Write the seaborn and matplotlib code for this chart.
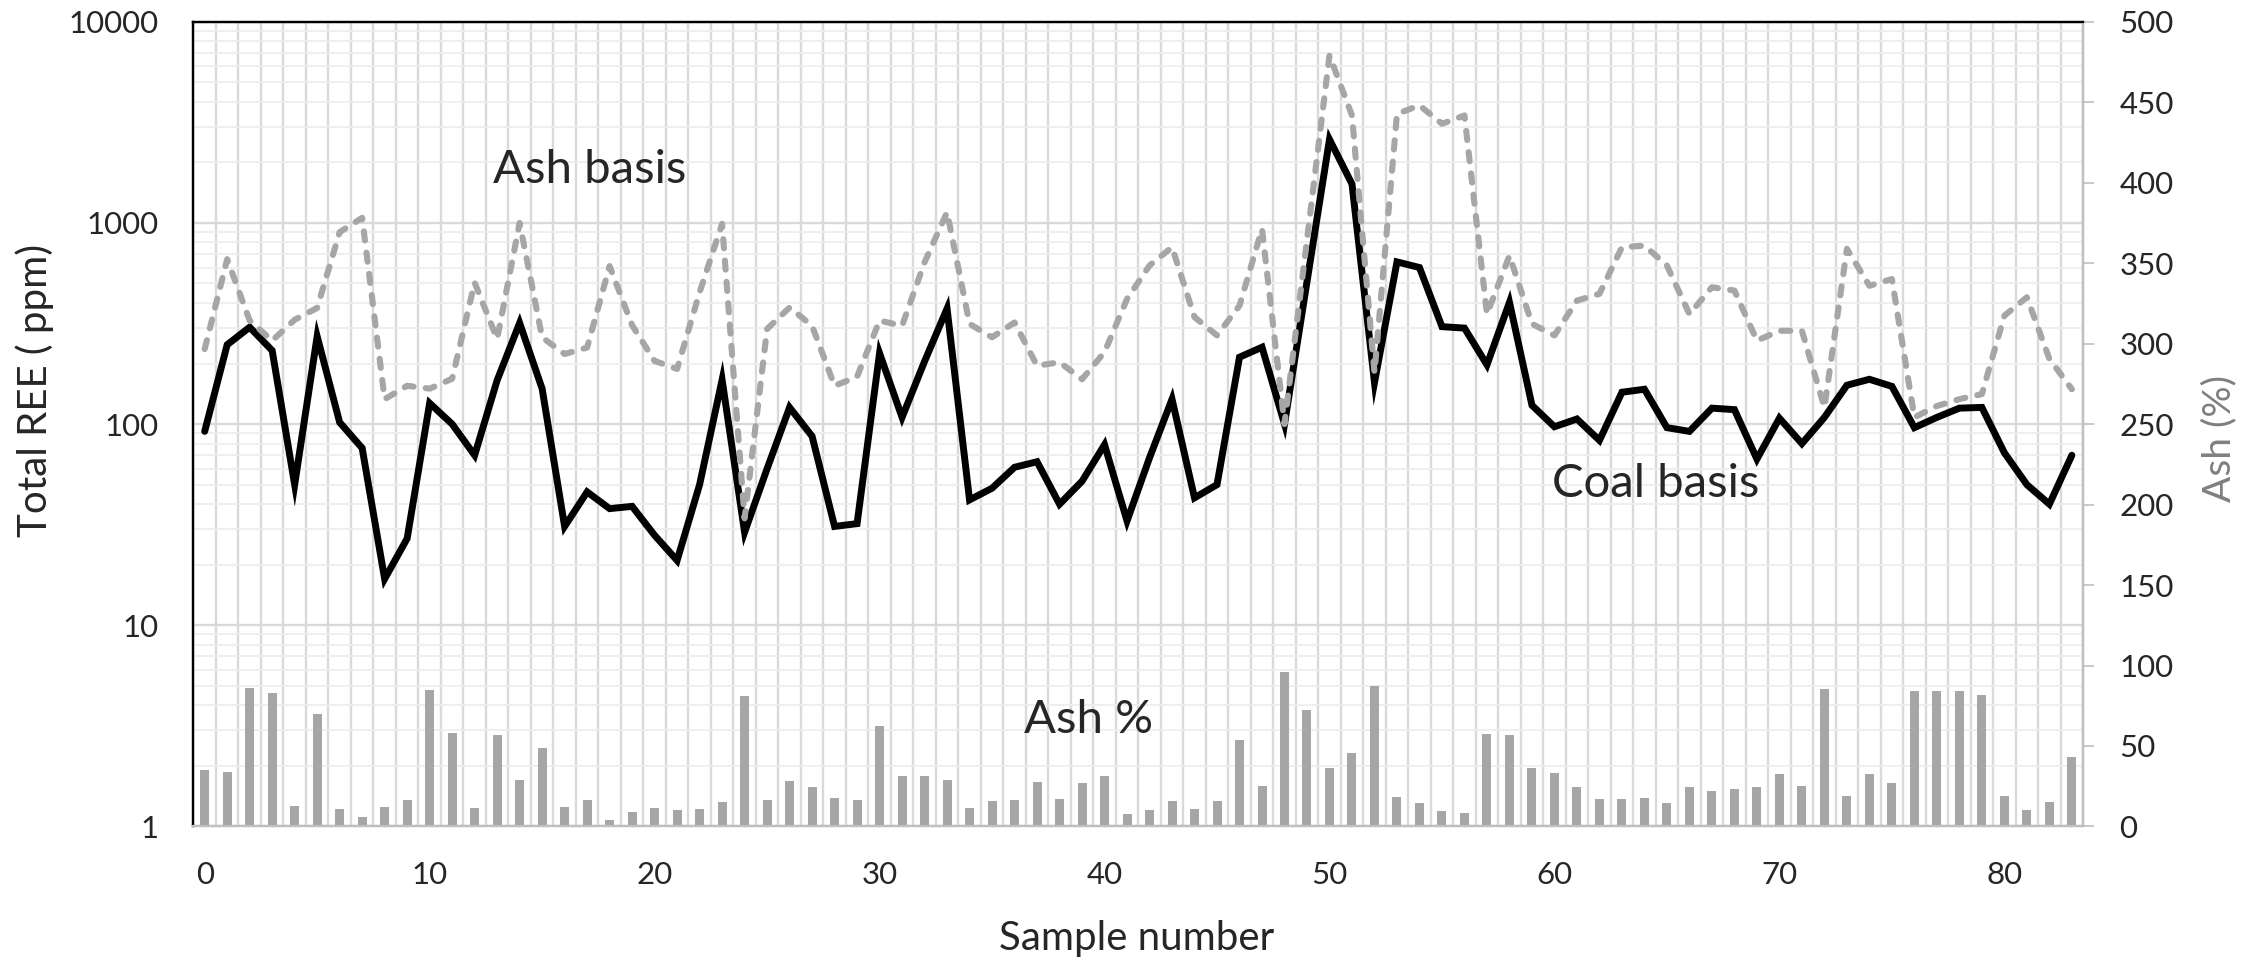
import numpy as np
import matplotlib
matplotlib.use("Agg")
import matplotlib.pyplot as plt
import matplotlib.ticker as mticker
import seaborn as sns

# --- data --------------------------------------------------------------
samples = np.arange(84)

coal_basis = [92, 248, 303, 232, 50, 273, 102, 76, 17, 27,
              127, 100, 70, 165, 318, 150, 31, 46, 38, 39,
              28, 21, 50, 166, 29, 60, 121, 87, 31, 32,
              225, 108, 205, 375, 42, 48, 61, 65, 40, 52,
              79, 33, 68, 133, 43, 50, 215, 241, 100, 510,
              2600, 1560, 161, 640, 600, 305, 300, 197, 403, 124,
              97, 106, 83, 144, 149, 96, 92, 120, 118, 67,
              107, 80, 108, 156, 167, 154, 96, 108, 120, 121,
              72, 50, 40, 70]

ash_basis = [236, 660, 327, 260, 330, 378, 900, 1060, 133, 155,
             150, 168, 505, 265, 1000, 270, 223, 240, 610, 310,
             206, 188, 452, 990, 34, 297, 380, 308, 155, 172,
             327, 308, 637, 1130, 315, 270, 320, 195, 203, 167,
             228, 419, 614, 757, 340, 276, 388, 933, 100, 825,
             6800, 3420, 180, 3480, 3840, 3110, 3420, 352, 687, 315,
             276, 411, 444, 757, 771, 614, 352, 479, 461, 260,
             291, 291, 121, 743, 487, 526, 108, 123, 133, 141,
             346, 427, 211, 149]

ash_pct = [35, 34, 86, 83, 13, 70, 10.6, 6, 12, 16.6,
           84.5, 58, 11.6, 57, 29, 48.7, 11.8, 16.6, 4.3, 9,
           11.2, 10, 10.8, 15.3, 81, 16.4, 28, 24.6, 17.8, 16.6,
           62.7, 31.5, 31.5, 29, 11.2, 16, 16.6, 27.5, 17, 27,
           31.3, 7.7, 10.4, 15.7, 11, 16, 54, 25.3, 96, 72.3,
           36.2, 45.5, 87, 18, 14.5, 9.3, 8.1, 57.3, 56.8, 36.4,
           33, 24.6, 17.2, 17.2, 17.8, 14.7, 24.4, 22.2, 23.4, 24.6,
           32.7, 25.3, 85.5, 19, 32.7, 27, 84, 84.3, 84, 81.4,
           19, 10, 15.3, 43]

x_ticks = [0, 10, 20, 30, 40, 50, 60, 70, 80]
left_ticks = [1, 10, 100, 1000, 10000]
right_ticks = [0, 50, 100, 150, 200, 250, 300, 350, 400, 450, 500]

# --- style ---------------------------------------------------------------
sns.set_style("white")
plt.rcParams['font.family'] = ['Lato', 'DejaVu Sans']

GRID = '#d9d9d9'
AXGRAY = '#bfbfbf'
BARGRAY = '#a6a6a6'

fig = plt.figure(figsize=(22.65, 9.61), dpi=100)
ax = fig.add_axes([0.0854, 0.140, 0.8343, 0.8374])
ax2 = ax.twinx()

# bars: ash % on the right axis
sns.barplot(x=samples, y=ash_pct, ax=ax2, color=BARGRAY, width=0.4,
            saturation=1, linewidth=0)

# lines: total REE on the left log axis
sns.lineplot(x=samples, y=coal_basis, ax=ax, color='black', linewidth=5.0,
             solid_joinstyle='miter')
sns.lineplot(x=samples, y=ash_basis, ax=ax, color=BARGRAY, linewidth=4.4,
             linestyle=(0, (1.5, 2.0)), dash_capstyle='round')

ax.set_yscale('log')
ax.set_ylim(1, 10000)
ax2.set_ylim(0, 500)
ax.set_xlim(-0.5, 83.5)

# x axis: labels every 10 samples, tick marks between categories
ax.xaxis.set_major_locator(mticker.FixedLocator(x_ticks))
ax.xaxis.set_major_formatter(mticker.FixedFormatter([str(v) for v in x_ticks]))
ax.xaxis.set_minor_locator(mticker.FixedLocator(np.arange(-0.5, 84, 1)))
ax.tick_params(axis='x', which='major', length=0, pad=25, labelsize=22.5)
ax.tick_params(axis='x', which='minor', length=8, width=1.2, color=AXGRAY,
               direction='out')

# left log axis
ax.yaxis.set_major_locator(mticker.FixedLocator(left_ticks))
ax.yaxis.set_major_formatter(mticker.FixedFormatter([str(v) for v in left_ticks]))
ax.yaxis.set_minor_locator(mticker.LogLocator(base=10, subs=np.arange(2, 10)))
ax.yaxis.set_minor_formatter(mticker.NullFormatter())
ax.tick_params(axis='y', which='both', length=0, pad=25, labelsize=22.5)

# right linear axis
ax2.set_yticks(right_ticks)
ax2.set_yticklabels([str(v) for v in right_ticks])
ax2.tick_params(axis='y', which='major', length=8, width=1.2, color=AXGRAY,
                direction='out', pad=18, labelsize=22.5)

# gridlines
ax.grid(False)
ax.grid(which='minor', axis='x', color=GRID, linewidth=1.7)
ax.grid(which='major', axis='y', color=GRID, linewidth=1.7)
ax.grid(which='minor', axis='y', color='#eeeeee', linewidth=1.3)
ax.set_axisbelow(True)
ax2.grid(False)

for a in (ax, ax2):
    a.spines['left'].set_color('black')
    a.spines['left'].set_linewidth(1.6)
    a.spines['top'].set_color('black')
    a.spines['top'].set_linewidth(1.6)
    a.spines['bottom'].set_color(AXGRAY)
    a.spines['bottom'].set_linewidth(1.6)
    a.spines['right'].set_color(AXGRAY)
    a.spines['right'].set_linewidth(1.6)
    a.set_xlabel('')
    a.set_ylabel('')

# series annotations
ax.text(12.8, 1574, 'Ash basis', fontsize=34, ha='left', va='baseline')
ax.text(59.9, 43.2, 'Coal basis', fontsize=34, ha='left', va='baseline')
ax2.text(36.4, 58.1, 'Ash %', fontsize=34, ha='left', va='baseline')

# axis titles
fig.text(0.0155, 0.594, 'Total REE ( ppm)', rotation=90, fontsize=29,
         ha='center', va='center')
fig.text(0.980, 0.544, 'Ash (%)', rotation=90, fontsize=28, color='#7f7f7f',
         ha='center', va='center')
fig.text(0.502, 0.0114, 'Sample number', fontsize=29, ha='center',
         va='baseline')

fig.savefig('out.png', dpi=100)
